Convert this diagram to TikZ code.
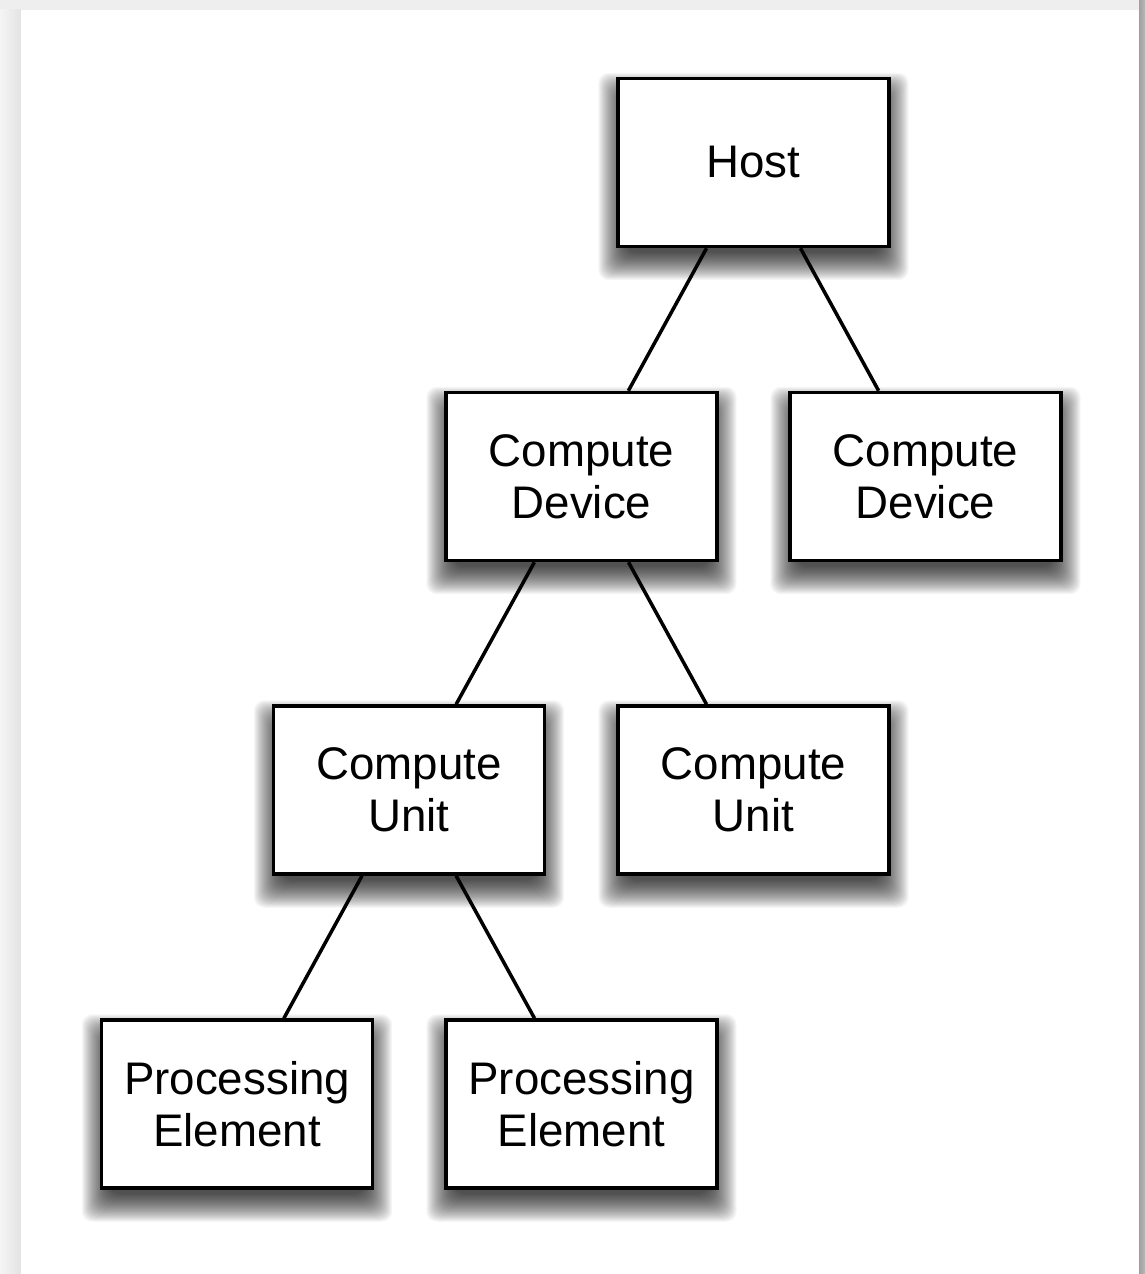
\documentclass[tikz,border=0pt]{standalone}
\usepackage{fontspec}
\setmainfont{Liberation Sans}
\usetikzlibrary{calc}

\pgfdeclarelayer{page}
\pgfdeclarelayer{shade}
\pgfsetlayers{page,shade,main}

\tikzset{
  unit/.style={draw, line width=2pt, fill=white, minimum width=5.42cm,
    minimum height=3.36cm, align=center, inner sep=0pt,
    font=\fontsize{26}{29.5}\selectfont},
  link/.style={line width=2pt},
  haze/.style={fill=black, opacity=0.035, rounded corners=6pt}
}

\begin{document}
\begin{tikzpicture}[x=0.02cm, y=-0.02cm]
	% page and frame
	\begin{pgfonlayer}{page}
	\fill[gray!13] (0,0) rectangle (1145,1274);
	\shade[left color=gray!8, right color=gray!22] (0,10) rectangle (21,1274);
	\shade[left color=gray!75, right color=gray!55] (1139,0) rectangle (1145,1274);
	\fill[white] (21,10) rectangle (1139,1274);
	\end{pgfonlayer}
	\useasboundingbox (0,0) rectangle (1145,1274);
	% boxes
	\node[unit] (host) at (753.5,162.5) {Host};
	\node[unit] (dev1) at (581.5,476.5) {Compute\\Device};
	\node[unit] (dev2) at (925.5,476.5) {Compute\\Device};
	\node[unit] (cu1) at (409,790) {Compute\\Unit};
	\node[unit] (cu2) at (753.5,790) {Compute\\Unit};
	\node[unit] (pe1) at (237,1104) {Processing\\Element};
	\node[unit] (pe2) at (581.5,1104) {Processing\\Element};
	% soft shadows under the boxes
	\begin{pgfonlayer}{shade}
	\foreach \n in {host,dev1,dev2,cu1,cu2,pe1,pe2}
		\foreach \e in {-10,...,18}
			\fill[haze] ($(\n.south west)+(-\e,{\e+14})$) rectangle ($(\n.north east)+(\e,{14-\e})$);
	\end{pgfonlayer}
	% links
	\draw[link] (host) -- (dev1);
	\draw[link] (host) -- (dev2);
	\draw[link] (dev1) -- (cu1);
	\draw[link] (dev1) -- (cu2);
	\draw[link] (cu1) -- (pe1);
	\draw[link] (cu1) -- (pe2);
\end{tikzpicture}
\end{document}
